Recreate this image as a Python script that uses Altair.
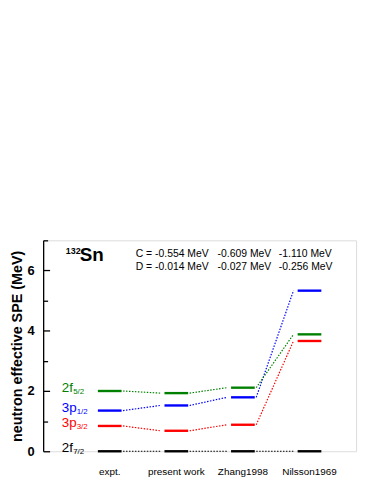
import altair as alt
import pandas as pd

# ---------------- data ----------------
methods = ["expt.", "present work", "Zhang1998", "Nilsson1969"]
level_names = ["2f7/2", "3p3/2", "3p1/2", "2f5/2"]
level_main = ["2f", "3p", "3p", "2f"]
level_sub = ["7/2", "3/2", "1/2", "5/2"]
level_colors = ["#000000", "#ff0000", "#0000ff", "#008000"]

e_2f72 = [0.00, 0.00, 0.00, 0.00]
e_3p32 = [0.84, 0.68, 0.88, 3.66]
e_3p12 = [1.35, 1.52, 1.79, 5.33]
e_2f52 = [2.00, 1.93, 2.11, 3.88]

c_values = ["C = -0.554 MeV", "-0.609 MeV", "-1.110 MeV"]
d_values = ["D = -0.014 MeV", "-0.027 MeV", "-0.256 MeV"]
nucleus_mass = "132"
nucleus_symbol = "Sn"
y_title = "neutron effective SPE (MeV)"

# ---------------- tables ----------------
energies = dict(zip(level_names, [e_2f72, e_3p32, e_3p12, e_2f52]))

bar_rows, link_rows = [], []
for lvl in level_names:
    e = energies[lvl]
    for i, m in enumerate(methods):
        bar_rows.append({"level": lvl, "idx": i, "method": m, "E": e[i]})
    for i in range(len(methods) - 1):
        link_rows.append({"level": lvl, "idx": i, "E": e[i], "En": e[i + 1]})
bars_df = pd.DataFrame(bar_rows)
links_df = pd.DataFrame(link_rows)

labels_df = pd.DataFrame({
    "level": level_names,
    "main": level_main,
    "sub": level_sub,
    "E": [energies[l][0] for l in level_names],
})
methods_df = pd.DataFrame({"method": methods, "idx": list(range(len(methods))), "E": [0] * len(methods)})

cd_rows = []
cd_x = [0.39, 1.62, 2.54]
for j, (c, d) in enumerate(zip(c_values, d_values)):
    cd_rows.append({"text": c, "x": cd_x[j], "y": 6.56})
    cd_rows.append({"text": d, "x": cd_x[j], "y": 6.10})
cd_df = pd.DataFrame(cd_rows)

nuc_df = pd.DataFrame({"mass": [nucleus_mass], "sym": [nucleus_symbol],
                       "xm": [-0.66], "ym": [6.77], "xs": [-0.45], "ys": [6.33]})

# ---------------- chart ----------------
FONT = "Liberation Sans"
PLOT_W, PLOT_H = 316, 213
xs = alt.Scale(domain=[-1, 3.7], nice=False, zero=False)
ys = alt.Scale(domain=[0, 7], nice=False, zero=False)
cs = alt.Scale(domain=level_names, range=level_colors)

left_axis = alt.Axis(
    orient="left", values=[0, 2, 4, 6], format="d", tickSize=0, grid=False,
    labelFont=FONT, labelFontSize=13, labelFontWeight="bold", labelColor="black",
    labelPadding=9, domainColor="black", domainWidth=1.3,
    title=y_title, titleFont=FONT, titleFontSize=14.5, titleFontWeight="bold",
    titleColor="black", titlePadding=3,
)
tick_axis = alt.Axis(
    orient="right", offset=-PLOT_W, values=list(range(8)), labels=False,
    domain=False, grid=False, title=None, tickColor="black", tickWidth=1.3,
    tickSize={"condition": {"test": "datum.value % 2 === 0", "value": 6.5}, "value": 4.5},
)

links = alt.Chart(links_df).transform_calculate(
    xa="datum.idx + 0.2", xb="datum.idx + 0.76"
).mark_rule(strokeWidth=1.2, strokeDash=[1.5, 1.5]).encode(
    x=alt.X("xa:Q", scale=xs, axis=None),
    x2="xb:Q",
    y=alt.Y("E:Q", scale=ys, axis=left_axis),
    y2="En:Q",
    color=alt.Color("level:N", scale=cs, legend=None),
)

bars = alt.Chart(bars_df).transform_calculate(
    x0="datum.idx - 0.178", x1="datum.idx + 0.178"
).mark_rule(strokeWidth=2.4).encode(
    x=alt.X("x0:Q", scale=xs, axis=None),
    x2="x1:Q",
    y=alt.Y("E:Q", scale=ys, axis=tick_axis),
    color=alt.Color("level:N", scale=cs, legend=None),
)

lab_main = alt.Chart(labels_df).transform_calculate(xl="-0.72").mark_text(
    align="left", baseline="middle", dy=-3, fontSize=13.5, font=FONT
).encode(
    x=alt.X("xl:Q", scale=xs, axis=None),
    y=alt.Y("E:Q", scale=ys, axis=None),
    text="main:N",
    color=alt.Color("level:N", scale=cs, legend=None),
)
lab_sub_f = alt.Chart(labels_df).transform_filter("datum.main == '2f'").transform_calculate(xl="-0.72").mark_text(
    align="left", baseline="middle", dx=11.5, dy=1, fontSize=8, font=FONT
).encode(
    x=alt.X("xl:Q", scale=xs, axis=None),
    y=alt.Y("E:Q", scale=ys, axis=None),
    text="sub:N",
    color=alt.Color("level:N", scale=cs, legend=None),
)
lab_sub_p = alt.Chart(labels_df).transform_filter("datum.main == '3p'").transform_calculate(xl="-0.72").mark_text(
    align="left", baseline="middle", dx=15, dy=1, fontSize=8, font=FONT
).encode(
    x=alt.X("xl:Q", scale=xs, axis=None),
    y=alt.Y("E:Q", scale=ys, axis=None),
    text="sub:N",
    color=alt.Color("level:N", scale=cs, legend=None),
)

meth = alt.Chart(methods_df).mark_text(
    align="center", baseline="alphabetic", dy=23.5, fontSize=10, font=FONT, color="black"
).encode(
    x=alt.X("idx:Q", scale=xs, axis=None),
    y=alt.Y("E:Q", scale=ys, axis=None),
    text="method:N",
)

cd = alt.Chart(cd_df).mark_text(
    align="left", baseline="middle", fontSize=10.5, font=FONT, color="black"
).encode(
    x=alt.X("x:Q", scale=xs, axis=None),
    y=alt.Y("y:Q", scale=ys, axis=None),
    text="text:N",
)

nuc_mass = alt.Chart(nuc_df).mark_text(
    align="left", baseline="top", fontSize=9, fontWeight="bold", font=FONT, color="black"
).encode(
    x=alt.X("xm:Q", scale=xs, axis=None),
    y=alt.Y("ym:Q", scale=ys, axis=None),
    text="mass:N",
)
nuc_sym = alt.Chart(nuc_df).mark_text(
    align="left", baseline="alphabetic", fontSize=19, fontWeight="bold", font=FONT, color="black"
).encode(
    x=alt.X("xs:Q", scale=xs, axis=None),
    y=alt.Y("ys:Q", scale=ys, axis=None),
    text="sym:N",
)

chart = alt.layer(
    links, bars, lab_main, lab_sub_f, lab_sub_p, meth, cd, nuc_mass, nuc_sym
).resolve_axis(y="independent").properties(
    width=PLOT_W, height=PLOT_H,
    autosize=alt.AutoSizeParams(type="none"),
    padding={"left": 35.5, "top": 232.3, "right": 10, "bottom": 26},
).configure_view(stroke=None).configure(background="white")

chart.save("out.html", embed_options={"renderer": "svg", "actions": False})
